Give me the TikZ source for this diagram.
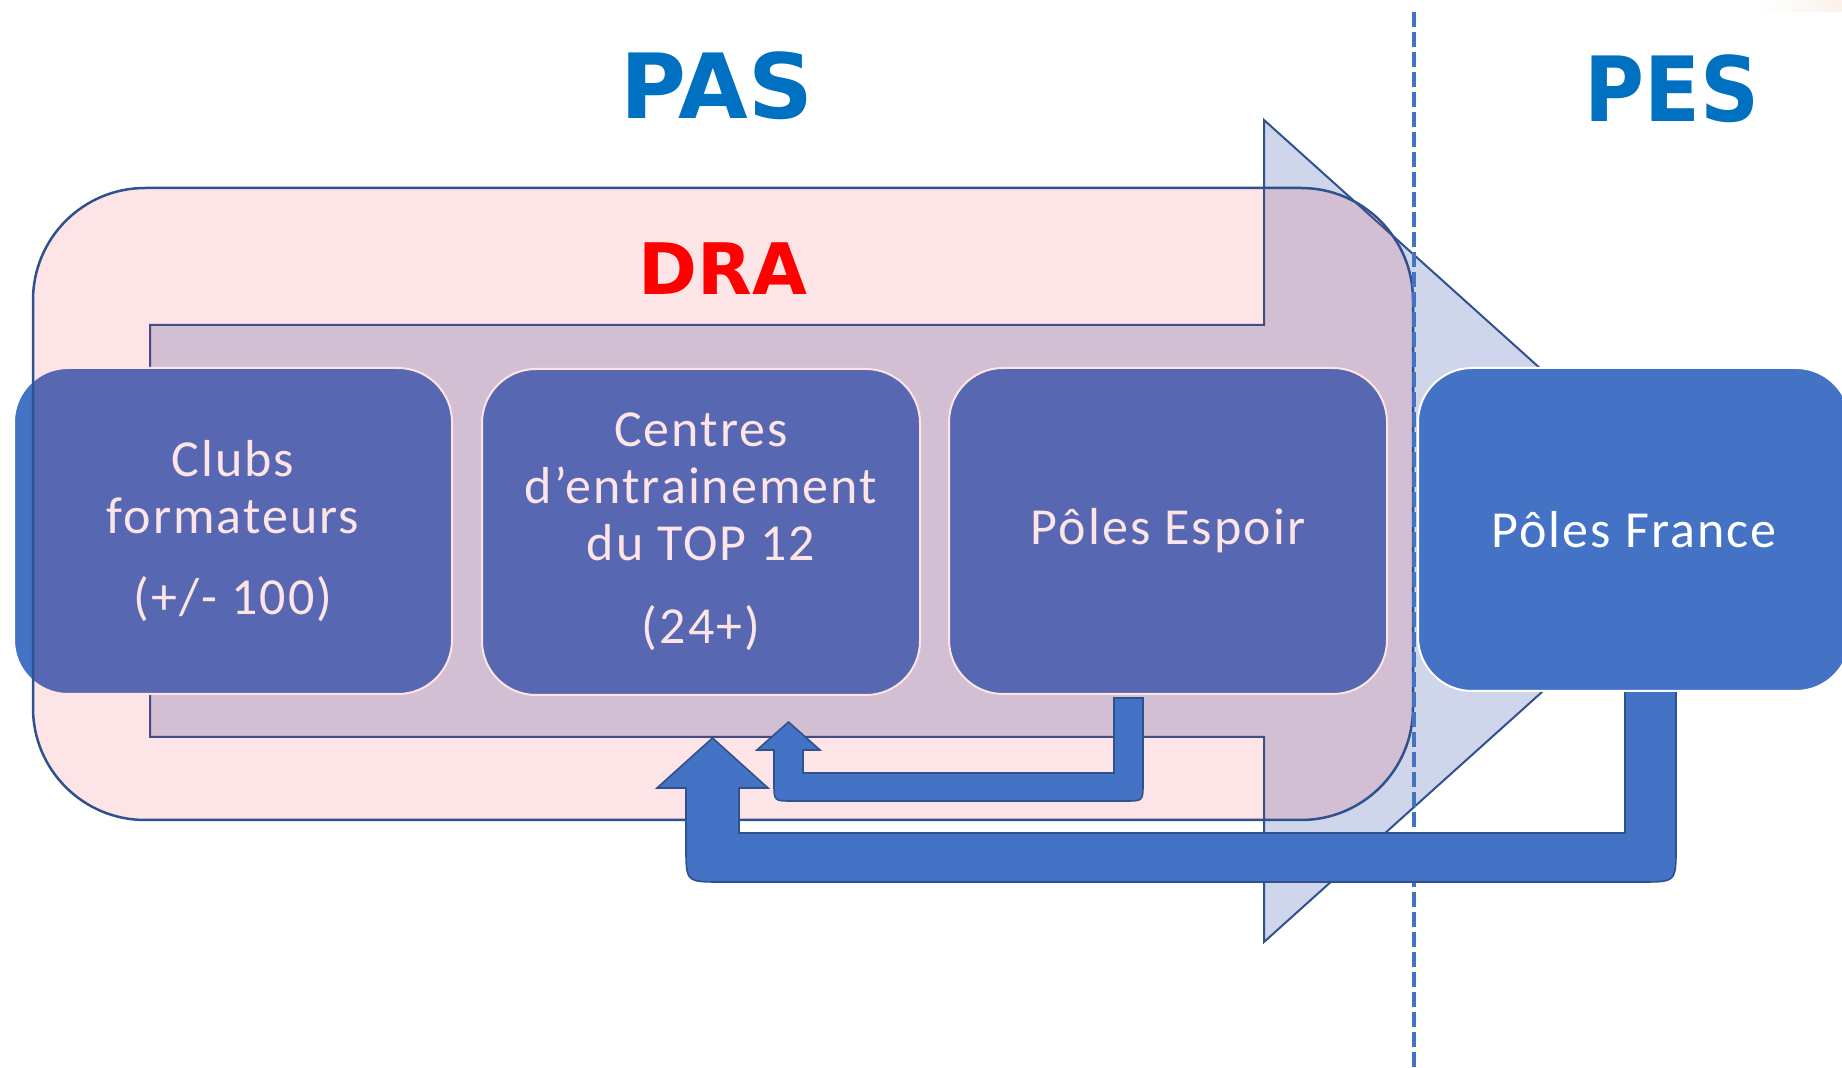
\documentclass[tikz,border=0pt]{standalone}
\usepackage{fontspec}
\setmainfont{Carlito}[LetterSpace=4]
\newfontfamily\titlefont{DejaVu Sans}
\usetikzlibrary{calc}
\definecolor{pfblue}{HTML}{4472C4}
\definecolor{edgeblue}{HTML}{2F528F}
\definecolor{lav}{HTML}{CFD5EA}
\definecolor{tint}{RGB}{238,26,43}
\definecolor{titleblue}{HTML}{0070C0}
\definecolor{beige}{RGB}{250,243,234}
\newcommand\bxfont{\fontsize{26pt}{28.5pt}\selectfont}
\begin{document}
\begin{tikzpicture}[x=0.5pt,y=-0.5pt,
  box/.style={draw=white, line width=1pt, fill=pfblue, rounded corners=27pt, text=white, font=\bxfont, align=center, inner sep=0pt, minimum width=219pt, minimum height=163pt},
  edge/.style={draw=edgeblue, line width=1pt},
  thickarrow/.style={fill=pfblue, draw=edgeblue, line width=0.8pt, line join=miter},
  title/.style={anchor=base, font=\titlefont\bfseries\fontsize{45pt}{50pt}\selectfont, text=titleblue},
  dashline/.style={draw=pfblue, line width=1.8pt, dash pattern=on 7.5pt off 2.5pt}
]
\useasboundingbox (0,0) rectangle (1842,1068);
\clip (0,0) rectangle (1842,1068);
\shade[left color=white, right color=beige] (1755,0) rectangle (1842,12);
% big block arrow
\draw[edge, fill=lav] (150,325) -- (1264,325) -- (1264,120) -- (1721,531) -- (1264,942) -- (1264,737) -- (150,737) -- cycle;
% boxes
\node[box] (clubs) at (233,531) {Clubs\\formateurs\\[12pt](+/- 100)};
\node[box] (centres) at (701,532) {Centres\\d’entrainement\\du TOP 12\\[13pt](24+)};
\node[box] (espoir) at (1168,531) {Pôles Espoir};
% DRA translucent frame
\draw[draw=edgeblue, line width=1.25pt, fill=tint, fill opacity=0.118, rounded corners=56pt] (33,188) rectangle (1413,820);
% titles
\node[anchor=base, font=\titlefont\bfseries\fontsize{35.5pt}{40pt}\selectfont, text=red] (dra) at (723,295) {DRA};
\node[title] (pas) at (717,119) {PAS};
\node[title, xscale=0.91] (pes) at (1672,122) {PES};
% dashed separator
\coordinate (dtop) at (1414,12);
\coordinate (dbot) at (1414,1068);
\draw[dashline] (dtop) -- (dbot);
% return arrows
\filldraw[thickarrow] (1114,698) -- (1143,698) -- (1143,783) .. controls (1143,801) .. (1125,801) -- (792,801) .. controls (774,801) .. (774,783) -- (774,750) -- (757,750) -- (788.5,722) -- (820,750) -- (803,750) -- (803,773) -- (1114,773) -- cycle;
\filldraw[thickarrow] (1625,691) -- (1676,691) -- (1676,847) .. controls (1676,882) .. (1641,882) -- (721,882) .. controls (686,882) .. (686,847) -- (686,788) -- (657,788) -- (712.5,738) -- (768,788) -- (739,788) -- (739,833) -- (1625,833) -- cycle;
% Poles France
\node[box, minimum width=216pt, minimum height=161.5pt] (france) at (1634,529.5) {Pôles France};
\end{tikzpicture}
\end{document}
